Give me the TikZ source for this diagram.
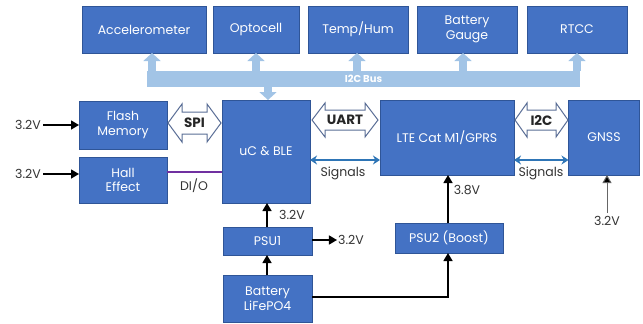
\documentclass[tikz,border=0pt]{standalone}
\usepackage{fontspec}
\setmainfont{Poppins}
\usetikzlibrary{arrows.meta}
\definecolor{boxblue}{HTML}{4472C4}
\definecolor{boxedge}{HTML}{2F5597}
\definecolor{busblue}{HTML}{A2C4E6}
\definecolor{sigblue}{HTML}{2E75B6}
\definecolor{dio}{HTML}{7030A0}
\definecolor{lbl}{HTML}{333333}
\definecolor{blockedge}{HTML}{5A6E96}
\tikzset{
  box/.style={rectangle, draw=boxedge, fill=boxblue, line width=0.6pt, text=white,
    font=\fontsize{12.5}{14.5}\selectfont, align=center, inner sep=0pt, outer sep=0pt},
  lab/.style={text=lbl, font=\fontsize{12.5}{14}\selectfont, inner sep=1pt},
  busarrow/.style={draw=busblue, line width=8pt, -{Triangle[width=17pt,length=8pt]}},
  pwr/.style={draw=black, line width=1.4pt, -{Triangle[width=9pt,length=8pt]}},
  sig/.style={draw=sigblue, line width=1.8pt, {Stealth[width=9pt,length=7pt]}-{Stealth[width=9pt,length=7pt]}},
  blockarr/.style={draw=blockedge, fill=white, line width=1pt, line join=miter},
  blocktext/.style={text=black!85, font=\bfseries\fontsize{13.5}{15}\selectfont, inner sep=0pt}
}
\begin{document}
\begin{tikzpicture}[x=1pt,y=-1pt]
\useasboundingbox (0,0) rectangle (643,324);
% top row
\node[box, minimum width=124pt, minimum height=47pt] (acc) at (144,29.5) {Accelerometer};
\node[box, minimum width=86pt, minimum height=47pt] (opto) at (256,29.5) {Optocell};
\node[box, minimum width=100pt, minimum height=47pt] (temp) at (358,29.5) {Temp/Hum};
\node[box, minimum width=100pt, minimum height=47pt] (batg) at (467,29.5) {Battery\\Gauge};
\node[box, minimum width=100pt, minimum height=47pt] (rtcc) at (577,29.5) {RTCC};
% bus
\node[rectangle, fill=busblue, minimum width=433pt, minimum height=16pt, inner sep=0pt, outer sep=0pt,
  text=white, font=\bfseries\fontsize{10}{11}\selectfont] (bus) at (363.5,78.5) {I2C Bus};
% middle
\node[box, minimum width=88pt, minimum height=48pt] (flash) at (123,125) {Flash\\Memory};
\node[box, minimum width=88pt, minimum height=46pt] (hall) at (123,180) {Hall\\Effect};
\node[box, minimum width=88pt, minimum height=103pt] (uc) at (266,151.5) {uC \& BLE};
\node[box, minimum width=134pt, minimum height=75pt] (lte) at (447,137.5) {LTE Cat M1/GPRS};
\node[box, minimum width=71pt, minimum height=75pt] (gnss) at (604,137.5) {GNSS};
% bottom
\node[box, minimum width=89pt, minimum height=28pt] (psu1) at (267.5,241) {PSU1};
\node[box, minimum width=89pt, minimum height=47pt] (bat) at (267.5,298.5) {Battery\\LiFePO4};
\node[box, minimum width=108pt, minimum height=30pt] (psu2) at (449,238) {PSU2 (Boost)};
% bus arrows
\coordinate (x1) at (152,0);
\coordinate (x2) at (256,0);
\coordinate (x3) at (357,0);
\coordinate (x4) at (463,0);
\coordinate (x5) at (577,0);
\coordinate (x6) at (268,0);
\draw[busarrow] (bus.north -| x1) -- (acc.south -| x1);
\draw[busarrow] (bus.north -| x2) -- (opto.south -| x2);
\draw[busarrow] (bus.north -| x3) -- (temp.south -| x3);
\draw[busarrow] (bus.north -| x4) -- (batg.south -| x4);
\draw[busarrow] (bus.north -| x5) -- (rtcc.south -| x5);
\draw[busarrow] (bus.south -| x6) -- (uc.north -| x6);
% block arrows
\draw[blockarr] (168,123) -- (182,104) -- (182,112) -- (207,112) -- (207,104) -- (221,123)
  -- (207,142) -- (207,134) -- (182,134) -- (182,142) -- cycle;
\node[blocktext] (spi) at (194.5,123) {SPI};
\draw[blockarr] (312,120) -- (325,103) -- (325,110) -- (365,110) -- (365,103) -- (378,120)
  -- (365,137) -- (365,130) -- (325,130) -- (325,137) -- cycle;
\node[blocktext] (uart) at (345,120) {UART};
\draw[blockarr] (515,120) -- (527,103) -- (527,110) -- (556,110) -- (556,103) -- (568,120)
  -- (556,137) -- (556,130) -- (527,130) -- (527,137) -- cycle;
\node[blocktext] (i2c) at (541.5,120) {I2C};
% signals
\coordinate (s1) at (0,160);
\draw[sig] (uc.east |- s1) -- (lte.west |- s1);
\node[lab] (sigl1) at (343,173) {Signals};
\draw[sig] (lte.east |- s1) -- (gnss.west |- s1);
\node[lab] (sigl2) at (541,173) {Signals};
% DI/O
\coordinate (d1) at (0,172);
\draw[dio, line width=2pt] (hall.east |- d1) -- (uc.west |- d1);
\node[lab] (diol) at (194,186) {DI/O};
% 3.2V inputs
\node[lab] (v1) at (28,125) {3.2V};
\draw[pwr] (v1.east) ++(1,0) coordinate (v1s) -- (flash.west |- v1s);
\node[lab] (v2) at (28,174) {3.2V};
\draw[pwr] (v2.east) ++(1,0) coordinate (v2s) -- (hall.west |- v2s);
% power tree
\coordinate (p1) at (267,0);
\draw[pwr] (psu1.north -| p1) -- (uc.south -| p1);
\node[lab] (v3) at (292,215) {3.2V};
\draw[pwr] (bat.north -| p1) -- (psu1.south -| p1);
\coordinate (p2) at (0,240);
\node[lab] (v4) at (351,240) {3.2V};
\draw[pwr] (psu1.east |- p2) -- (v4.west);
\coordinate (p3) at (448,297);
\draw[pwr] (bat.east |- p3) -- (p3) -- (psu2.south -| p3);
\draw[pwr] (psu2.north -| p3) -- (lte.south -| p3);
\node[lab] (v5) at (467,190) {3.8V};
\node[lab] (v6) at (607,221) {3.2V};
\draw[draw=gray!80!black, line width=1pt, -{Triangle[width=9pt,length=8pt,fill=black]}] (v6.north) ++(0,-2) coordinate (g1) -- (gnss.south -| g1);
\end{tikzpicture}
\end{document}
